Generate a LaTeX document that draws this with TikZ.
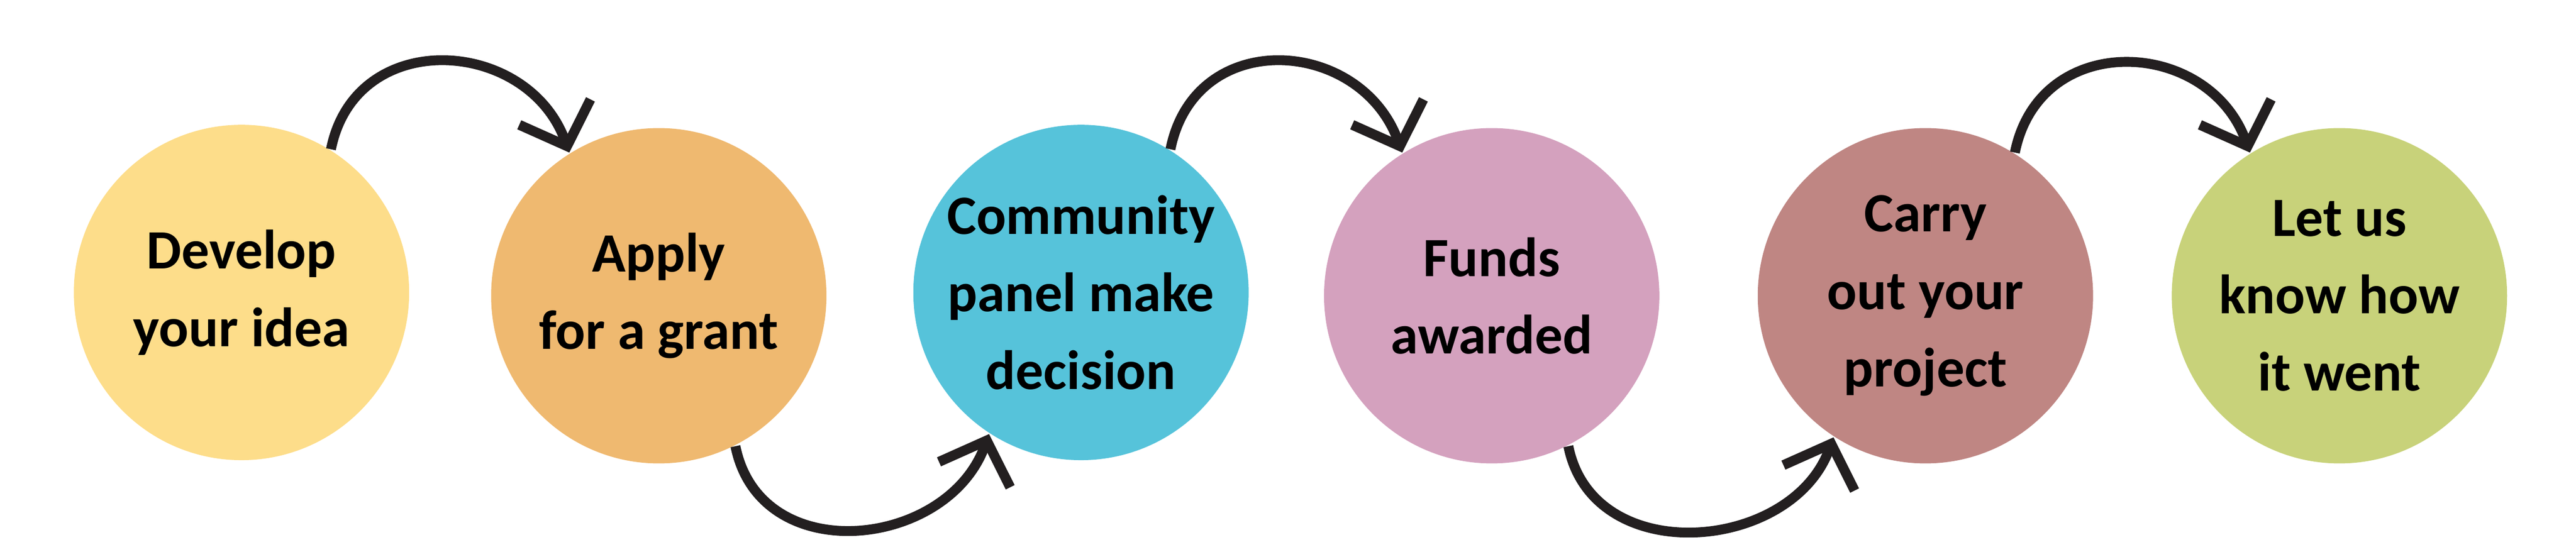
\documentclass[tikz,border=0pt]{standalone}
\usepackage{fontspec}
\setmainfont{Carlito}
\usetikzlibrary{arrows.meta}
\definecolor{cy}{HTML}{FDDD8A}
\definecolor{co}{HTML}{EFB970}
\definecolor{cc}{HTML}{56C3DA}
\definecolor{cp}{HTML}{D4A1BE}
\definecolor{cb}{HTML}{BF8683}
\definecolor{cg}{HTML}{C8D27A}
\definecolor{ink}{HTML}{231F20}
\begin{document}
\begin{tikzpicture}[x=0.01cm,y=-0.01cm,
  blob/.style={circle,minimum size=2.04cm,inner sep=0pt,align=center,
    font=\fontsize{9.6pt}{13.4pt}\selectfont\bfseries,text=black},
  hop/.style={line width=0.6mm,draw=ink,-{Straight Barb[length=2.2mm,width=4.6mm,line width=0.6mm]}}]
\useasboundingbox (0,0) rectangle (1568,339);
\node[blob,fill=cy] (c1) at (147,178) {Develop\\your idea};
\node[blob,fill=co] (c2) at (401,180) {Apply\\for a grant};
\node[blob,fill=cc] (c3) at (658,178) {Community\\panel make\\decision};
\node[blob,fill=cp] (c4) at (908,180) {Funds\\awarded};
\node[blob,fill=cb] (c5) at (1172,180) {Carry\\out your\\project};
\node[blob,fill=cg] (c6) at (1424,180) {Let us\\know how\\it went};
\draw[hop] (c1.58) .. controls +(15,-75) and +(-25,-70) .. (c2.122);
\draw[hop] (c3.58) .. controls +(15,-75) and +(-25,-70) .. (c4.122);
\draw[hop] (c5.58) .. controls +(15,-75) and +(-25,-70) .. (c6.122);
\draw[hop] (c2.-63) .. controls +(15,75) and +(-25,70) .. (c3.237);
\draw[hop] (c4.-63) .. controls +(15,75) and +(-25,70) .. (c5.237);
\end{tikzpicture}
\end{document}
